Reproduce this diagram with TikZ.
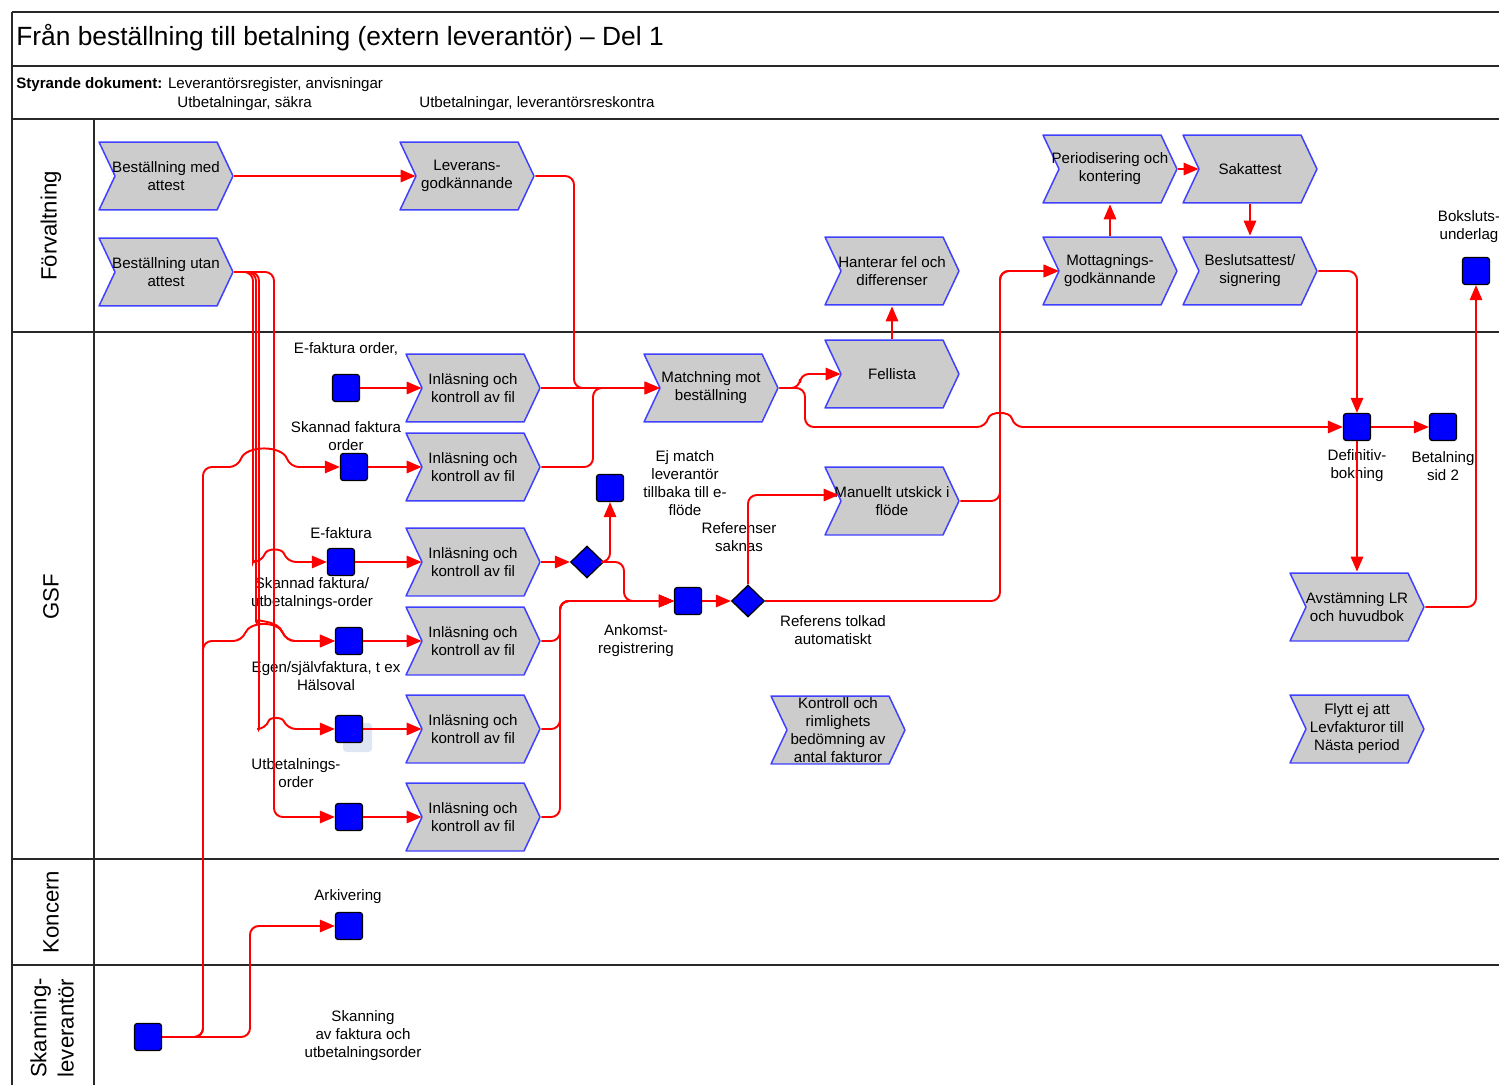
\documentclass[tikz,border=0pt]{standalone}
\usepackage{fontspec}
\setmainfont{Liberation Sans}
\usetikzlibrary{arrows.meta,shapes.geometric,calc}
\definecolor{chevgray}{RGB}{204,204,204}
\definecolor{chevblue}{RGB}{64,64,255}
\definecolor{framecol}{RGB}{40,40,40}
\definecolor{shadowblue}{RGB}{222,229,243}
\begin{document}
\begin{tikzpicture}[x=0.02cm,y=-0.02cm,
  frm/.style={draw=framecol,line width=1.1pt},
  chev/.style={minimum width=2.72cm,minimum height=1.40cm,inner sep=0pt,align=center,
    font=\fontsize{8.6}{10.2}\selectfont,
    path picture={\path[fill=chevgray,draw=chevblue,line width=0.85pt,line join=round]
      ([shift={(1,1)}]path picture bounding box.north west) --
      ([shift={(-17,1)}]path picture bounding box.north east) --
      ([shift={(-1,0)}]path picture bounding box.east) --
      ([shift={(-17,-1)}]path picture bounding box.south east) --
      ([shift={(1,-1)}]path picture bounding box.south west) --
      ([shift={(17,0)}]path picture bounding box.west) -- cycle;}},
  sq/.style={rectangle,minimum size=0.54cm,inner sep=0pt,fill=blue,draw=black,line width=0.7pt,rounded corners=1.5pt},
  dia/.style={diamond,minimum width=0.66cm,minimum height=0.64cm,inner sep=0pt,fill=blue,draw=black,line width=0.7pt},
  lbl/.style={font=\fontsize{8.6}{10.2}\selectfont,align=center,inner sep=0pt},
  lane/.style={font=\fontsize{12.6}{15.5}\selectfont,align=center,inner sep=0pt,rotate=90},
  flow/.style={draw=red,line width=1.1pt,rounded corners=5pt,-{Triangle[length=8.5pt,width=7pt]}}
]
\useasboundingbox (0,0) rectangle (1499,1085);

% frame
\draw[frm] (12,12) -- (1499,12);
\draw[frm] (12,12) -- (12,1085);
\draw[frm] (12,66) -- (1499,66);
\draw[frm] (12,119) -- (1499,119);
\draw[frm] (94,119) -- (94,1085);
\draw[frm] (12,332) -- (1499,332);
\draw[frm] (12,859) -- (1499,859);
\draw[frm] (12,965) -- (1499,965);

\node[anchor=west,inner sep=0pt,font=\fontsize{15}{17}\selectfont] (title) at (16,38) {Från beställning till betalning (extern leverantör) – Del 1};
\node[anchor=west,lbl] (styr1) at (16,85) {\textbf{Styrande dokument:} Leverantörsregister, anvisningar};
\node[anchor=west,lbl] (styr2) at (177,104) {Utbetalningar, säkra};
\node[anchor=west,lbl] (styr3) at (419,104) {Utbetalningar, leverantörsreskontra};

\node[lane] (lane1) at (51,226) {Förvaltning};
\node[lane] (lane2) at (51,597) {GSF};
\node[lane] (lane3) at (51,912) {Koncern};
\node[lane] (lane4) at (52,1028) {Skanning-\\leverantör};

% chevrons
\node[chev] (med) at (166,176) {Beställning med\\attest};
\node[chev] (utan) at (166,272) {Beställning utan\\attest};
\node[chev] (lev) at (467,176) {Leverans-\\godkännande};
\node[chev] (ins1) at (473,388) {Inläsning och\\kontroll av fil};
\node[chev] (ins2) at (473,467) {Inläsning och\\kontroll av fil};
\node[chev] (ins3) at (473,562) {Inläsning och\\kontroll av fil};
\node[chev] (ins4) at (473,641) {Inläsning och\\kontroll av fil};
\node[chev] (ins5) at (473,729) {Inläsning och\\kontroll av fil};
\node[chev] (ins6) at (473,817) {Inläsning och\\kontroll av fil};
\node[chev] (match) at (711,388) {Matchning mot\\beställning};
\node[chev] (fell) at (892,374) {Fellista};
\node[chev] (han) at (892,271) {Hanterar fel och\\differenser};
\node[chev] (man) at (892,501) {Manuellt utskick i\\flöde};
\node[chev] (per) at (1110,169) {Periodisering och\\kontering};
\node[chev] (sak) at (1250,169) {Sakattest};
\node[chev] (mott) at (1110,271) {Mottagnings-\\godkännande};
\node[chev] (bes) at (1250,271) {Beslutsattest/\\signering};
\node[chev] (avst) at (1357,607) {Avstämning LR\\och huvudbok};
\node[chev] (flytt) at (1357,729) {Flytt ej att\\Levfakturor till\\Nästa period};
\node[chev] (kontr) at (838,730) {Kontroll och\\rimlighets\\bedömning av\\antal fakturor};

% squares
\fill[shadowblue,rounded corners=2pt] (343,723) rectangle (372,752);
\node[sq] (s1) at (346,388) {};
\node[sq] (s2) at (354,467) {};
\node[sq] (s3) at (341,562) {};
\node[sq] (s4) at (349,641) {};
\node[sq] (s5) at (349,729) {};
\node[sq] (s6) at (349,817) {};
\node[sq] (s7) at (610,488) {};
\node[sq] (s8) at (688,601) {};
\node[sq] (s9) at (1357,427) {};
\node[sq] (s10) at (1443,427) {};
\node[sq] (s11) at (1476,271) {};
\node[sq] (s12) at (349,926) {};
\node[sq] (s13) at (148,1037) {};
\node[dia] (d1) at (587,562) {};
\node[dia] (d2) at (748,601) {};

% labels
\node[lbl] (lb1) at (346,349) {E-faktura order,};
\node[lbl] (lb2) at (346,436) {Skannad faktura\\order};
\node[lbl] (lb3) at (341,533) {E-faktura};
\node[lbl] (lb4) at (312,594) {Skannad faktura/\\utbetalnings-order};
\node[lbl] (lb5) at (326,676) {Egen/självfaktura, t ex\\Hälsoval};
\node[lbl] (lb6) at (296,773) {Utbetalnings-\\order};
\node[lbl] (lb7) at (685,483) {Ej match\\leverantör\\tillbaka till e-\\flöde};
\node[lbl] (lb8) at (739,537) {Referenser\\saknas};
\node[lbl] (lb9) at (833,630) {Referens tolkad\\automatiskt};
\node[lbl] (lb10) at (636,641) {Ankomst-\\registrering};
\node[lbl] (lb11) at (1357,466) {Definitiv-\\bokning};
\node[lbl] (lb12) at (1443,466) {Betalning\\sid 2};
\node[lbl] (lb13) at (1469,227) {Boksluts-\\underlag};
\node[lbl] (lb14) at (348,897) {Arkivering};
\node[lbl] (lb15) at (363,1036) {Skanning\\av faktura och\\utbetalningsorder};

% connectors
\draw[flow] (med.east) -- ($(lev.west)+(17,0)$);
\draw[flow] (lev.east) -- (574,176) -- (574,388) -- ($(match.west)+(17,0)$);
\draw[flow] (ins1.east) -- ($(match.west)+(17,0)$);
\draw[flow] (ins2.east) -- (593,467) -- (593,388) -- ($(match.west)+(17,0)$);
\draw[flow] (match.east) -- (800,388) -- (800,374) -- ($(fell.west)+(17,0)$);
\draw[flow] (match.east) -- (805,388) -- (805,427) -- (986,427) .. controls (990,411) and (1010,411) .. (1014,427) -- (s9.west);
\draw[flow] (fell.north) -- (han.south);
\draw[flow] (mott.north) -- (per.south);
\draw[flow] (per.east) -- ($(sak.west)+(17,0)$);
\draw[flow] (sak.south) -- (bes.north);
\draw[flow] (bes.east) -| (s9.north);
\draw[flow] (s9.east) -- (s10.west);
\draw[flow] (s9.south) -- (avst.north);
\draw[flow] (avst.east) -| (s11.south);
\draw[flow] (ins3.east) -- (d1.west);
\draw[flow] (d1.east) -| (s7.south);
\draw[flow] (d1.east) -- (624,562) -- (624,601) -- (s8.west);
\draw[flow] (ins4.east) -- (560,641) -- (560,601) -- (s8.west);
\draw[flow] (ins5.east) -- (560,729) -- (560,601) -- (s8.west);
\draw[flow] (ins6.east) -- (560,817) -- (560,601) -- (s8.west);
\draw[flow] (s8.east) -- (d2.west);
\draw[flow] (d2.north) -- (748,495) -- ($(man.west)+(15,-6)$);
\draw[flow] (d2.east) -- (1000,601) -- (1000,271) -- ($(mott.west)+(17,0)$);
\draw[flow] (man.east) -- (1000,501) -- (1000,271) -- ($(mott.west)+(17,0)$);

\draw[flow] (s1.east) -- ($(ins1.west)+(17,0)$);
\draw[flow] (s2.east) -- ($(ins2.west)+(17,0)$);
\draw[flow] (s3.east) -- ($(ins3.west)+(17,0)$);
\draw[flow] (s4.east) -- ($(ins4.west)+(17,0)$);
\draw[flow] (s5.east) -- ($(ins5.west)+(17,0)$);
\draw[flow] (s6.east) -- ($(ins6.west)+(17,0)$);

% from Beställning utan attest
\draw[flow] (utan.east) -- (253,272) -- (253,553) .. controls (253,559) and (256,562) .. (262,562) .. controls (267,548) and (282,548) .. (287,562) -- (s3.west);
\draw[flow] (utan.east) -- (256,272) -- (256,628) .. controls (258,622) and (278,620) .. (286,641) -- (s4.west);
\draw[flow] (utan.east) -- (259,272) -- (259,720) .. controls (259,726) and (261,729) .. (266,729) .. controls (270,717) and (282,717) .. (287,729) -- (s5.west);
\draw[flow] (utan.east) -- (274,272) -- (274,817) -- (s6.west);

% from skanning
\draw[flow] (s13.east) -- (203,1037) -- (203,467) -- (238,467) .. controls (246,445) and (282,445) .. (290,467) -- (s2.west);
\draw[flow] (s13.east) -- (203,1037) -- (203,641) -- (242,641) .. controls (250,621) and (278,621) .. (286,641) -- (s4.west);
\draw[flow] (s13.east) -- (250,1037) -- (250,926) -- (s12.west);
\end{tikzpicture}
\end{document}
